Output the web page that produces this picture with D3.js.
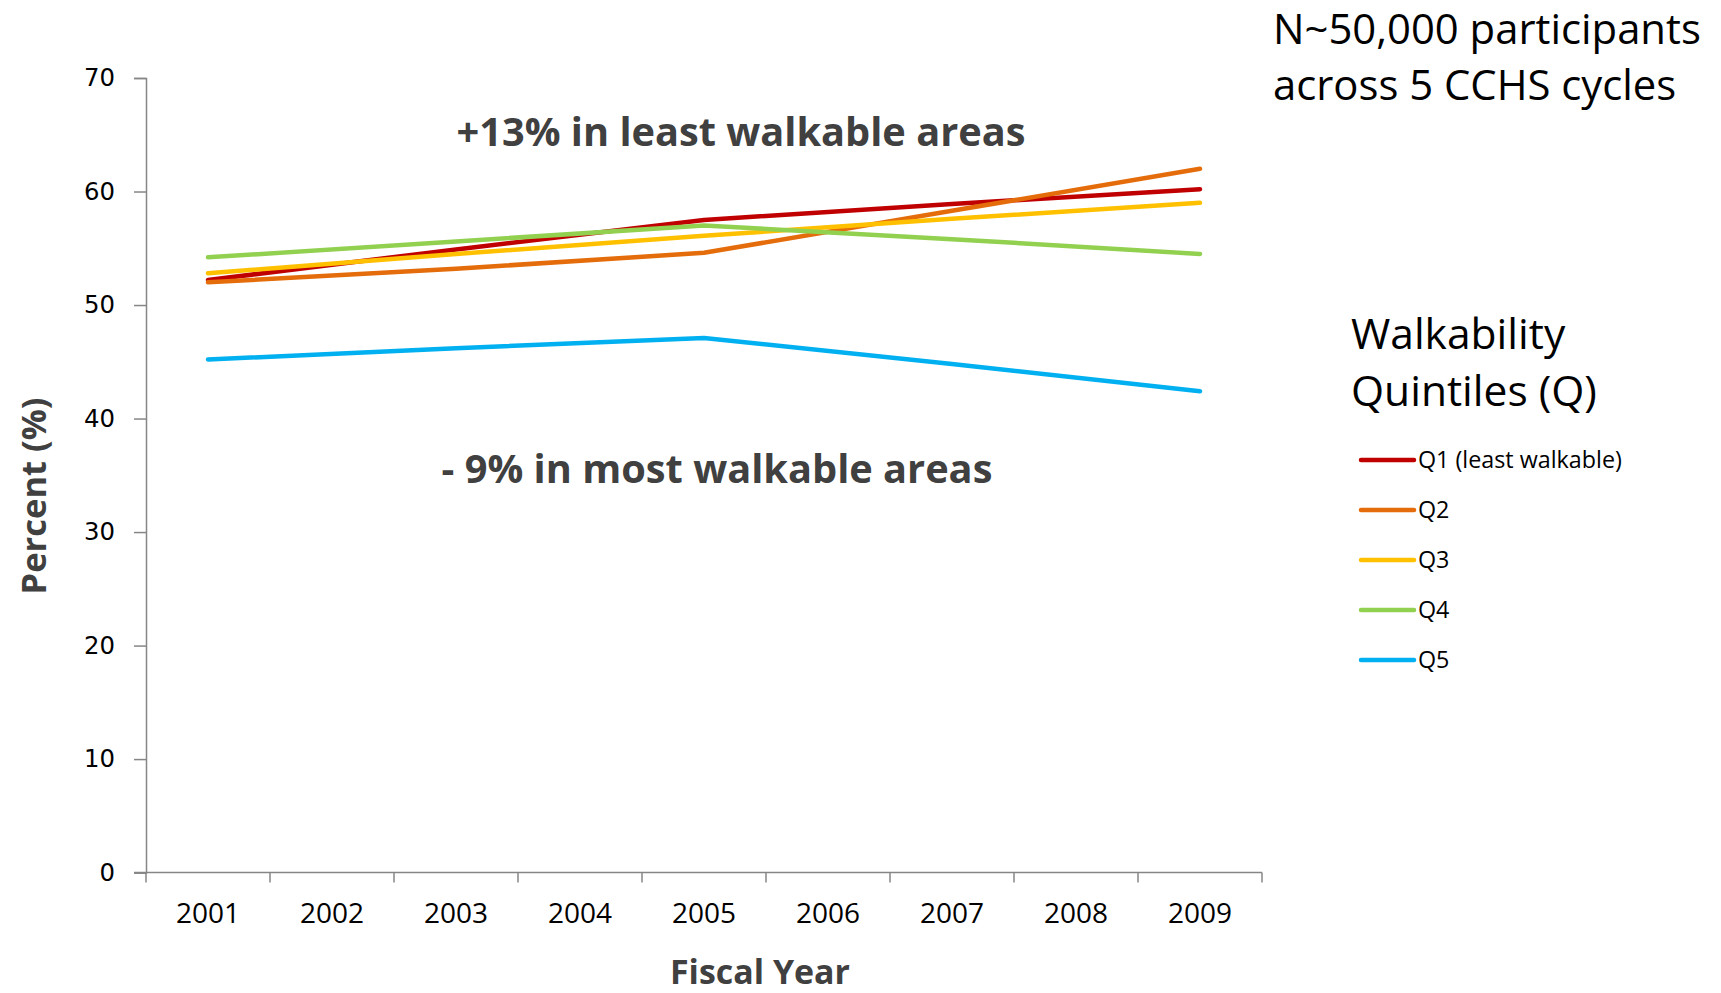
<!DOCTYPE html>
<html>
<head>
<meta charset="utf-8">
<script src="https://cdn.jsdelivr.net/npm/d3@7"></script>
<style>
  html, body { margin: 0; padding: 0; background: #fff; }
  svg { display: block; }
</style>
</head>
<body>
<svg id="chart" width="1721" height="993"></svg>
<script>
// Fiscal years shown on the axis
const years = ["2001", "2002", "2003", "2004", "2005", "2006", "2007", "2008", "2009"];
// Survey cycle years where each quintile was measured
const cycleYears = ["2001", "2003", "2005", "2007", "2009"];
// Percent by walkability quintile
const q1 = [52.2, 54.9, 57.5, 58.9, 60.2];
const q2 = [52.0, 53.2, 54.6, 58.3, 62.0];
const q3 = [52.8, 54.5, 56.1, 57.6, 59.0];
const q4 = [54.2, 55.6, 57.0, 55.8, 54.5];
const q5 = [45.2, 46.2, 47.1, 44.8, 42.4];
const seriesNames = ["Q1 (least walkable)", "Q2", "Q3", "Q4", "Q5"];
const seriesColors = ["#C00000", "#E46C0A", "#FFC000", "#92D050", "#00B0F0"];
const yTicks = [0, 10, 20, 30, 40, 50, 60, 70];

const series = [q1, q2, q3, q4, q5].map((vals, i) => ({
  name: seriesNames[i],
  color: seriesColors[i],
  points: cycleYears.map((y, j) => ({ year: y, value: vals[j] }))
}));

const svg = d3.select("#chart");
const plot = { left: 146, right: 1262, top: 78, bottom: 872.6 };

const x = d3.scaleBand().domain(years).range([plot.left, plot.right]).padding(0);
const y = d3.scaleLinear().domain([0, 70]).range([plot.bottom, plot.top]);

const axisColor = "#868686";

// Y axis
const yAxis = svg.append("g")
  .attr("transform", `translate(${plot.left},0)`)
  .call(d3.axisLeft(y).tickValues(yTicks).tickSize(12).tickPadding(19));
yAxis.attr("font-family", "DejaVu Sans").attr("font-size", 27);
yAxis.select(".domain").attr("stroke", axisColor).attr("stroke-width", 1.5);
yAxis.selectAll(".tick line").attr("stroke", axisColor).attr("stroke-width", 1.5);
const yLabels = yAxis.selectAll(".tick text")
  .attr("fill", "#000")
  .style("font-family", "'DejaVu Sans', sans-serif")
  .style("font-size", "24px");
{
  // size the tick labels so "70" spans about 31px
  const n = yLabels.nodes().find(t => t.textContent === "70");
  const w = n.getComputedTextLength();
  yLabels.style("font-size", (24 * 31 / w) + "px");
}

// X axis: tick marks at band edges, labels at band centres
const xAxisG = svg.append("g").attr("transform", `translate(0,${plot.bottom})`);
xAxisG.append("line")
  .attr("x1", plot.left - 12).attr("x2", plot.right)
  .attr("stroke", axisColor).attr("stroke-width", 1.5);
const edges = years.map(d => x(d)).concat([plot.right]);
xAxisG.selectAll("line.edge").data(edges).join("line")
  .attr("class", "edge")
  .attr("x1", d => d).attr("x2", d => d)
  .attr("y1", 0).attr("y2", 10)
  .attr("stroke", axisColor).attr("stroke-width", 1.5);
xAxisG.selectAll("text").data(years).join("text")
  .attr("x", d => x(d) + x.bandwidth() / 2)
  .attr("y", 50)
  .attr("text-anchor", "middle")
  .attr("fill", "#000")
  .style("font-family", "'Open Sans', sans-serif")
  .style("font-size", "28px")
  .text(d => d);

// Series lines
const line = d3.line()
  .x(d => x(d.year) + x.bandwidth() / 2)
  .y(d => y(d.value));

svg.append("g").selectAll("path").data(series).join("path")
  .attr("d", d => line(d.points))
  .attr("fill", "none")
  .attr("stroke", d => d.color)
  .attr("stroke-width", 4.5)
  .attr("stroke-linecap", "round")
  .attr("stroke-linejoin", "round");

// Fit a text element to a given width by scaling its font size
function fitWidth(sel, target) {
  const size = parseFloat(sel.style("font-size"));
  const w = sel.node().getComputedTextLength();
  sel.style("font-size", (size * target / w) + "px");
}

// Axis titles
const xTitle = svg.append("text")
  .attr("x", 760).attr("y", 984)
  .attr("text-anchor", "middle")
  .attr("fill", "#404040")
  .style("font-family", "'Open Sans', sans-serif")
  .style("font-weight", "bold")
  .style("font-size", "32px")
  .text("Fiscal Year");
fitWidth(xTitle, 180);

const yTitle = svg.append("text")
  .attr("transform", "translate(46,496) rotate(-90)")
  .attr("text-anchor", "middle")
  .attr("fill", "#404040")
  .style("font-family", "'Open Sans', sans-serif")
  .style("font-weight", "bold")
  .style("font-size", "32px")
  .text("Percent (%)");
fitWidth(yTitle, 197);

// Annotations
const ann1 = svg.append("text")
  .attr("x", 741).attr("y", 146)
  .attr("text-anchor", "middle")
  .attr("fill", "#404040")
  .style("font-family", "'Open Sans', sans-serif")
  .style("font-weight", "bold")
  .style("font-size", "36px")
  .text("+13% in least walkable areas");
fitWidth(ann1, 569);

const ann2 = svg.append("text")
  .attr("x", 717).attr("y", 483)
  .attr("text-anchor", "middle")
  .attr("fill", "#404040")
  .style("font-family", "'Open Sans', sans-serif")
  .style("font-weight", "bold")
  .style("font-size", "36px")
  .text("- 9% in most walkable areas");
fitWidth(ann2, 551);

// Sample note
const note = svg.append("text")
  .attr("fill", "#000")
  .style("font-family", "'Open Sans', sans-serif")
  .style("font-size", "38px");
note.append("tspan").attr("x", 1273).attr("y", 44).text("N~50,000 participants");
note.append("tspan").attr("x", 1273).attr("y", 100).text("across 5 CCHS cycles");
{
  const t = note.select("tspan").node();
  const w = t.getComputedTextLength();
  note.style("font-size", (38 * 428 / w) + "px");
}

// Legend
const legTitle = svg.append("text")
  .attr("fill", "#000")
  .style("font-family", "'Open Sans', sans-serif")
  .style("font-size", "38px");
legTitle.append("tspan").attr("x", 1351).attr("y", 349).text("Walkability");
legTitle.append("tspan").attr("x", 1351).attr("y", 406).text("Quintiles (Q)");
{
  const t = legTitle.selectAll("tspan").nodes()[1];
  const w = t.getComputedTextLength();
  legTitle.style("font-size", (38 * 246 / w) + "px");
}

const legend = svg.append("g");
const legItems = legend.selectAll("g").data(series).join("g")
  .attr("transform", (d, i) => `translate(1361,${460 + i * 50})`);
legItems.append("line")
  .attr("x1", 0).attr("x2", 53)
  .attr("stroke", d => d.color)
  .attr("stroke-width", 4.5)
  .attr("stroke-linecap", "round");
const legText = legItems.append("text")
  .attr("x", 57).attr("y", 7.5)
  .attr("fill", "#000")
  .style("font-family", "'Open Sans', sans-serif")
  .style("font-size", "20px")
  .text(d => d.name);
{
  const w = legText.nodes()[0].getComputedTextLength();
  legText.style("font-size", (20 * 204 / w) + "px");
}
</script>
</body>
</html>
